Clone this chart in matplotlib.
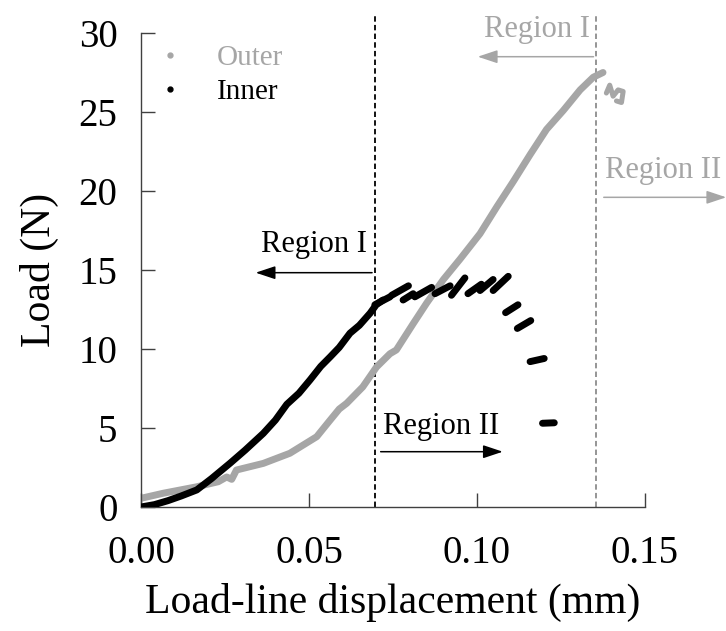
import matplotlib
matplotlib.use("Agg")
import matplotlib.pyplot as plt
from matplotlib.lines import Line2D

plt.rcParams['font.family'] = ['Liberation Serif', 'DejaVu Serif']

# ---------------- data ----------------
inner_x = [0, 0.004, 0.008, 0.012, 0.0166, 0.021, 0.0265, 0.031, 0.0364, 0.040,
           0.0434, 0.047, 0.0503, 0.0535, 0.0563, 0.059, 0.0622, 0.065, 0.0682,
           0.070, 0.072]
inner_y = [0, 0.15, 0.4, 0.7, 1.08, 1.8, 2.77, 3.6, 4.66, 5.5,
           6.5, 7.2, 8.04, 8.9, 9.5, 10.1, 11.0, 11.5, 12.27,
           12.8, 13.1]

# plateau / failure fragments of the inner curve: (x start, x end), (y start, y end)
inner_seg_x = [(0.0696, 0.0741), (0.0746, 0.0796), (0.0780, 0.0810), (0.0815, 0.0865),
               (0.0875, 0.0920), (0.0924, 0.0964), (0.0973, 0.1013), (0.1009, 0.1048),
               (0.1048, 0.1093), (0.1085, 0.1122), (0.1120, 0.1160), (0.1158, 0.1200),
               (0.1195, 0.1230)]
inner_seg_y = [(12.8, 13.3), (13.4, 14.0), (13.1, 13.5), (13.3, 13.9),
               (13.5, 14.0), (13.4, 14.5), (13.5, 14.1), (13.7, 14.4),
               (13.7, 14.6), (12.3, 12.8), (11.3, 11.8), (9.2, 9.4),
               (5.3, 5.33)]

outer_x = [0, 0.0066, 0.0166, 0.0230, 0.0255, 0.0270, 0.0284, 0.0364, 0.0443,
           0.0523, 0.0563, 0.0590, 0.0612, 0.066, 0.0701, 0.0741, 0.076, 0.081,
           0.085, 0.090, 0.095, 0.1009, 0.1059, 0.1108, 0.1158, 0.1207, 0.1257,
           0.1307, 0.1346, 0.1375]
outer_y = [0.55, 0.87, 1.28, 1.6, 1.9, 1.75, 2.34, 2.76, 3.4,
           4.45, 5.5, 6.2, 6.56, 7.6, 8.86, 9.7, 9.94, 11.6,
           12.9, 14.4, 15.7, 17.3, 19.0, 20.6, 22.3, 23.9, 25.1,
           26.4, 27.2, 27.5]
outer_tail_x = [0.1385, 0.1395, 0.1405, 0.1420, 0.1435, 0.1430, 0.1415]
outer_tail_y = [26.2, 26.7, 26.0, 26.4, 26.3, 25.6, 25.7]

inner_boundary = 0.0696
outer_boundary = 0.1355

x_ticks = [0.00, 0.05, 0.10, 0.15]
x_ticklabels = ["0.00", "0.05", "0.10", "0.15"]
y_ticks = [0, 5, 10, 15, 20, 25, 30]

BLACK = '#000000'
GRAY = '#a6a6a6'

fig = plt.figure(figsize=(7.26, 6.31), dpi=100)
ax = fig.add_axes([141 / 726, 1 - 507 / 631, 504 / 726, 474 / 631])

lw = 5.0
ax.plot(outer_x, outer_y, color=GRAY, lw=lw, solid_capstyle='round', solid_joinstyle='round', zorder=2)
ax.plot(outer_tail_x, outer_tail_y, color=GRAY, lw=3.6, solid_capstyle='round', zorder=2)
ax.plot(inner_x, inner_y, color=BLACK, lw=lw, solid_capstyle='round', solid_joinstyle='round', zorder=3)
for sx, sy in zip(inner_seg_x, inner_seg_y):
    ax.plot(sx, sy, color=BLACK, lw=lw, solid_capstyle='round', zorder=3)

# boundary dashed lines (extend slightly above the axes)
ax.plot([inner_boundary, inner_boundary], [0, 31.1], color=BLACK, lw=1.3,
        ls=(0, (3, 1.8)), clip_on=False, zorder=1)
ax.plot([outer_boundary, outer_boundary], [0, 31.1], color='#8c8c8c', lw=1.3,
        ls=(0, (3, 1.8)), clip_on=False, zorder=1)

ax.set_xlim(0, 0.15)
ax.set_ylim(0, 30)
ax.set_xticks(x_ticks)
ax.set_xticklabels(x_ticklabels)
ax.set_yticks(y_ticks)

for s in ['top', 'right']:
    ax.spines[s].set_visible(False)
for s in ['left', 'bottom']:
    ax.spines[s].set_color('#404040')
    ax.spines[s].set_linewidth(1.0)
ax.tick_params(direction='in', length=10, width=1.0, color='#404040', labelsize=28)
ax.tick_params(axis='y', pad=17)
ax.tick_params(axis='x', pad=20)

ax.set_xlabel('Load-line displacement (mm)', fontsize=30, labelpad=8)
ax.set_ylabel('Load (N)', fontsize=30, labelpad=14)

# annotations
tfs = 22
arrow_k = dict(arrowstyle='-|>,head_length=1.2,head_width=0.4', lw=1.1)
# Inner region I
ax.annotate('', xy=(0.0333, 14.83), xytext=(inner_boundary, 14.83),
            arrowprops=dict(color=BLACK, **arrow_k))
ax.text(0.0672, 16.6, 'Region I', fontsize=tfs, color=BLACK, ha='right', va='center')
# Inner region II
ax.annotate('', xy=(0.1085, 3.5), xytext=(0.0705, 3.5),
            arrowprops=dict(color=BLACK, **arrow_k))
ax.text(0.0720, 5.1, 'Region II', fontsize=tfs, color=BLACK, ha='left', va='center')
# Outer region I
ax.annotate('', xy=(0.0994, 28.5), xytext=(outer_boundary, 28.5),
            arrowprops=dict(color=GRAY, **arrow_k), annotation_clip=False)
ax.text(0.1336, 30.2, 'Region I', fontsize=tfs, color=GRAY, ha='right', va='center', clip_on=False)
# Outer region II
ax.annotate('', xy=(0.1750, 19.6), xytext=(0.1369, 19.6),
            arrowprops=dict(color=GRAY, **arrow_k), annotation_clip=False)
ax.text(0.1380, 21.3, 'Region II', fontsize=tfs, color=GRAY, ha='left', va='center', clip_on=False)

handles = [Line2D([], [], ls='none', marker='o', ms=3.5, color=GRAY),
           Line2D([], [], ls='none', marker='o', ms=3.5, color=BLACK)]
leg = ax.legend(handles, ['Outer', 'Inner'], loc='upper left', bbox_to_anchor=(0.044, 0.975),
                frameon=False, fontsize=21, handlelength=0.5, handletextpad=1.35,
                labelspacing=0.25, borderpad=0, borderaxespad=0)
leg.get_texts()[0].set_color(GRAY)
leg.get_texts()[1].set_color(BLACK)

fig.savefig('out.png', dpi=100)
